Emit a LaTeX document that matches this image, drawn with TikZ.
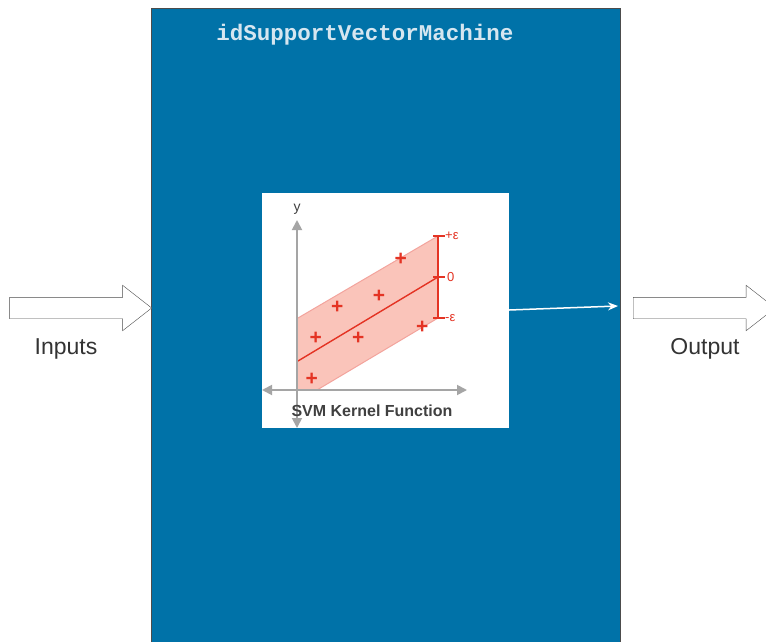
\documentclass[tikz,border=0pt]{standalone}
\usepackage{fontspec}
\setmainfont{Liberation Sans}
\newfontfamily\codefont{Liberation Mono}
\usetikzlibrary{shapes.arrows, positioning, calc, arrows.meta}
\definecolor{svmblue}{RGB}{0,114,168}
\definecolor{titlefg}{RGB}{214,230,240}
\definecolor{kred}{RGB}{228,52,36}
\definecolor{kband}{RGB}{250,196,186}
\definecolor{axgray}{RGB}{165,165,165}

\begin{document}
\begin{tikzpicture}[
    x=1pt, y=-1pt,
    every node/.style={font=\fontsize{23}{25}\selectfont, align=center, text=black!80},
    svmbox/.style={rectangle, draw=black!70, fill=svmblue, minimum width=469pt, minimum height=634pt, inner sep=0pt},
    kernelbox/.style={rectangle, fill=white, minimum width=247pt, minimum height=235pt, inner sep=0pt},
    blockarrow/.style={single arrow, draw=black!70, fill=white, minimum height=142pt, inner xsep=0pt, inner ysep=10.5pt, single arrow head extend=12pt, single arrow tip angle=76},
    axis/.style={axgray, line width=1.8pt, <->, >={Triangle[length=10pt, width=10pt]}},
    eps/.style={kred, font=\fontsize{13}{13}\selectfont, anchor=west, inner sep=0pt},
    plus/.style={text=kred, font=\bfseries\fontsize{21}{21}\selectfont, inner sep=0pt}
]
    \useasboundingbox (0,0) rectangle (766,642);

    % Main block
    \node[svmbox] (svm) at (385.5,325) {};
    \node[font=\codefont\bfseries\fontsize{22.5}{24}\selectfont, text=titlefg] (title) at (365,35) {idSupportVectorMachine};

    % Kernel picture
    \node[kernelbox] (kernel) at (385.5,310.5) {};
    \fill[kband] (298,318) -- (438,236) -- (438,318) -- (317,390) -- (298,390) -- cycle;
    \draw[kred!45, line width=1pt] (298,318) -- (438,236);
    \draw[kred!45, line width=1pt] (317,390) -- (438,318);
    \draw[kred, line width=1.4pt] (298,361) -- (438,277);
    \draw[axis] (262,390) -- (467,390);
    \draw[axis] (297,428) -- (297,220);
    \node[font=\fontsize{14}{14}\selectfont, text=black!75] (ylabel) at (297,209) {y};
    \draw[kred, line width=2pt] (438,236) -- (438,318);
    \foreach \yy in {236,277,318}
        \draw[kred, line width=2pt] (433,\yy) -- (445,\yy);
    \node[eps] (peps) at (445,236) {+ε};
    \node[eps] (zero) at (447,277) {0};
    \node[eps] (meps) at (445,318) {-ε};
    \foreach \px/\py in {400.7/259, 337.3/307.3, 379/296, 315.7/338.3, 358.3/338.3, 422.3/327.3, 311.7/379.3}
        \node[plus] at (\px,\py) {+};
    \node[font=\bfseries\fontsize{16}{16}\selectfont, text=black!75] (klabel) at (372,411) {SVM Kernel Function};

    % Inputs and output
    \node[blockarrow, anchor=east] (inarrow) at (152,308) {};
    \node (inputs) at (66,349) {Inputs};
    \node[blockarrow, anchor=west] (outarrow) at (633,308) {};
    \node (output) at (705,349) {Output};
    \coordinate (outpt) at (618,306);
    \draw[white, line width=1.5pt, -{Stealth[length=10pt, width=8pt]}] (kernel.east |- 0,310) -- (outpt);
\end{tikzpicture}
\end{document}
